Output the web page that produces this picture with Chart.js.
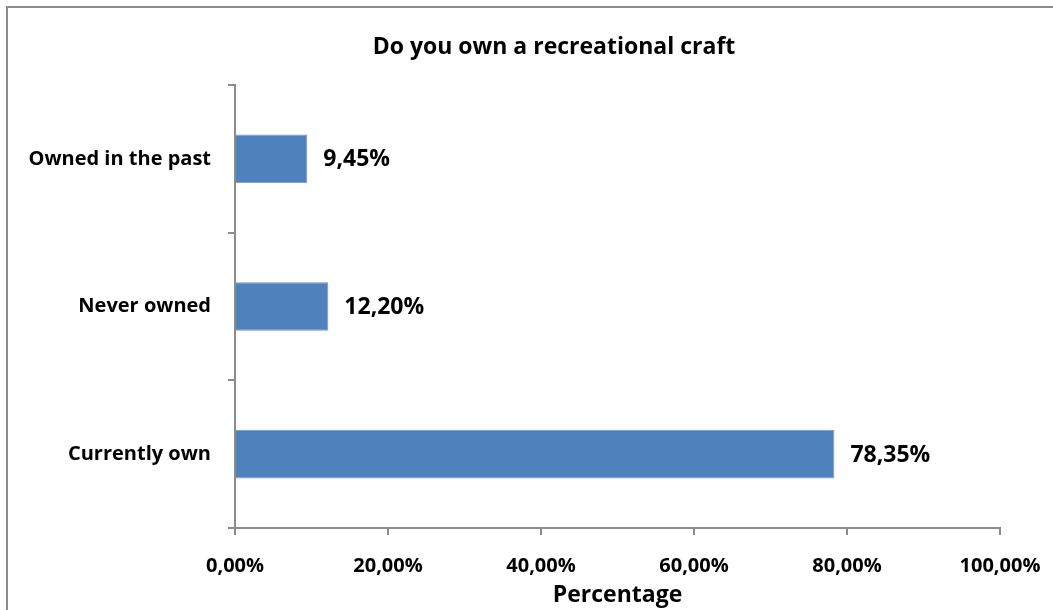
<!DOCTYPE html>
<html>
<head>
    <title>Do you own a recreational craft</title>
    <script src="https://cdn.jsdelivr.net/npm/chart.js"></script>
    <style>
        body {
            margin: 0;
            background: #ffffff;
        }
        .frame {
            position: absolute;
            left: 6px;
            top: 6px;
            width: 1100px;
            height: 700px;
            border-left: 2px solid #8c8c8c;
            border-top: 2px solid #8c8c8c;
        }
        #craftChart {
            position: absolute;
            left: 0;
            top: 0;
        }
    </style>
</head>
<body>
    <div class="frame"></div>
    <canvas id="craftChart" width="1053" height="610"></canvas>

    <script>
        var chartTitle = 'Do you own a recreational craft';
        var categories = ['Owned in the past', 'Never owned', 'Currently own'];
        var percentages = [9.45, 12.20, 78.35];
        var xTicks = [0, 20, 40, 60, 80, 100];

        var FONT = '"Open Sans", Arial, sans-serif';

        function fmt(v) {
            return v.toFixed(2).replace('.', ',') + '%';
        }

        // title is placed a bit right of the canvas centre, like the original
        var titlePlugin = {
            id: 'titlePlugin',
            afterDraw: function(chart) {
                var ctx = chart.ctx;
                ctx.save();
                ctx.font = 'bold 23px ' + FONT;
                ctx.fillStyle = '#000000';
                ctx.textAlign = 'center';
                ctx.textBaseline = 'middle';
                ctx.fillText(chartTitle, 554, 47);
                ctx.restore();
            }
        };

        var barLabels = {
            id: 'barLabels',
            afterDatasetsDraw: function(chart) {
                var ctx = chart.ctx;
                var meta = chart.getDatasetMeta(0);
                ctx.save();
                ctx.font = 'bold 23px ' + FONT;
                ctx.fillStyle = '#000000';
                ctx.textBaseline = 'middle';
                ctx.textAlign = 'left';
                meta.data.forEach(function(bar, i) {
                    ctx.fillText(fmt(percentages[i]), bar.x + 16, bar.y + 1);
                });
                ctx.restore();
            }
        };

        var ctx = document.getElementById('craftChart').getContext('2d');
        var chart = new Chart(ctx, {
            type: 'bar',
            data: {
                labels: categories,
                datasets: [{
                    data: percentages,
                    backgroundColor: '#4f81bd',
                    borderColor: '#7397c9',
                    borderWidth: 1,
                    barPercentage: 0.33,
                    categoryPercentage: 1
                }]
            },
            options: {
                indexAxis: 'y',
                responsive: false,
                animation: false,
                layout: {
                    padding: { top: 85, right: 53, bottom: 0 }
                },
                plugins: {
                    legend: { display: false },
                    tooltip: { enabled: false },
                    title: { display: false }
                },
                scales: {
                    x: {
                        min: 0,
                        max: 100,
                        afterBuildTicks: function(axis) {
                            axis.ticks = xTicks.map(function(v) { return { value: v }; });
                        },
                        afterFit: function(axis) {
                            axis.height = 82;
                            axis.paddingLeft = 0;
                            axis.paddingRight = 0;
                        },
                        grid: {
                            drawOnChartArea: false,
                            color: '#8c8c8c',
                            tickLength: 7,
                            lineWidth: 2
                        },
                        border: { color: '#8c8c8c', width: 2 },
                        ticks: {
                            color: '#000000',
                            padding: 19,
                            maxRotation: 0,
                            font: { family: FONT, size: 20, weight: 'bold' },
                            callback: function(v) { return fmt(v); }
                        },
                        title: {
                            display: true,
                            text: 'Percentage',
                            color: '#000000',
                            font: { family: FONT, size: 23, weight: 'bold', lineHeight: 1.2 },
                            padding: { top: 0, bottom: 1 }
                        }
                    },
                    y: {
                        afterFit: function(axis) { axis.width = 235; },
                        grid: {
                            drawOnChartArea: false,
                            offset: true,
                            color: '#8c8c8c',
                            tickLength: 7,
                            lineWidth: 2
                        },
                        border: { color: '#8c8c8c', width: 2 },
                        ticks: {
                            color: '#000000',
                            padding: 17,
                            font: { family: FONT, size: 20, weight: 'bold' }
                        }
                    }
                }
            },
            plugins: [barLabels, titlePlugin]
        });
    </script>
</body>
</html>
